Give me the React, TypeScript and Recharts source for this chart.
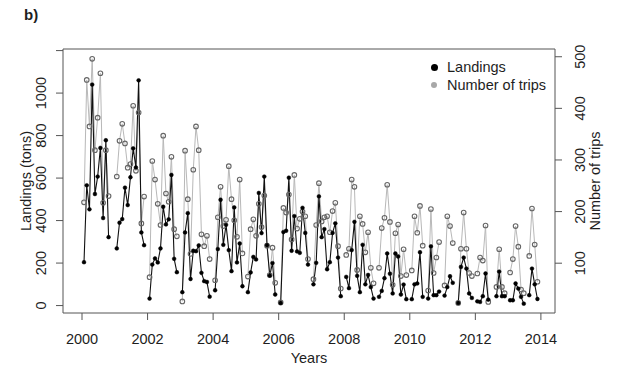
import { ComposedChart, Line, XAxis, YAxis, ReferenceArea, Legend, Label } from "recharts"

// monthly values, Jan..Dec, null where the month is missing
const years = [2000, 2001, 2002, 2003, 2004, 2005, 2006, 2007, 2008, 2009, 2010, 2011, 2012, 2013]

const landings: (number | null)[][] = [
  [204, 566, 453, 1040, 525, 607, 742, 412, 778, 322, null, null],
  [269, 390, 407, 555, 473, 604, 740, 650, 1060, 344, 284, null],
  [33, 193, 222, 203, 269, 465, 382, 406, 615, 220, 157, null],
  [63, 344, 435, 125, 258, 256, 283, 154, 115, 111, 42, null],
  [72, 266, 498, 286, 380, 261, 162, 462, 203, 292, 91, null],
  [63, 156, 229, 217, 530, 341, 607, 284, 141, 200, 52, null],
  [12, 346, 352, 602, 258, 421, 255, 248, 460, 342, 193, null],
  [100, 201, 514, 322, 360, 171, 204, 342, 387, 226, 44, null],
  [135, 82, 261, 394, 140, 63, 286, 100, 144, 87, 33, null],
  [41, 69, 129, 245, 150, 57, 245, 231, 52, 99, 30, null],
  [30, 100, 104, 251, 41, null, 33, 279, 49, 49, 66, null],
  [47, 87, 138, 107, null, 12, 182, 226, 174, 57, 36, null],
  [20, 17, 44, 151, 28, null, null, 44, 160, 44, 44, null],
  [25, 25, 104, 80, 41, 9, null, 49, 174, 100, 31, null],
]

const trips: (number | null)[][] = [
  [218, 455, 365, 496, 319, 382, 468, 217, 319, 230, null, null],
  [268, 337, 370, 332, 285, 292, 405, 279, 392, 177, 229, null],
  [73, 298, 262, 215, 174, 347, 235, 219, 306, 166, 152, null],
  [26, 318, 224, 118, 281, 365, 319, 156, 133, 153, 108, null],
  [67, 189, 248, 172, 184, 288, 224, 183, 151, 262, 119, null],
  [74, 166, 185, 153, 215, 170, 231, 134, 77, 130, 62, null],
  [24, 207, 198, 233, 146, 271, 167, 186, 200, 191, 108, null],
  [69, 174, 255, 181, 189, 191, 160, 201, 217, 133, 51, null],
  [116, 128, 262, 248, 87, 191, 176, 121, 160, 91, 61, null],
  [91, 168, 188, 252, 180, 58, 158, 175, 75, 127, 77, null],
  [86, 191, 159, 211, 134, null, 47, 205, 81, 111, 141, null],
  [57, 191, 172, 139, null, 23, 128, 198, 128, 81, 75, null],
  [80, 111, 105, 173, 25, null, null, 54, 127, 54, 42, null],
  [82, 108, 172, 132, 49, 42, null, 114, 206, 136, 64, null],
]

const yearTicks = [2000, 2002, 2004, 2006, 2008, 2010, 2012, 2014]
const landingTicks = [0, 200, 400, 600, 800, 1000, 1200]
const tripTicks = [100, 200, 300, 400, 500]

const data = years.flatMap((yr, i) =>
  landings[i].map((l, m) => ({ t: yr + (m + 0.73) / 12, landings: l, trips: trips[i][m] }))
)

const FONT = "'Liberation Sans', Arial, sans-serif"
const TXT = "#1e1e1e"
const AX = "#555"
const xDomain = [1999.42, 2014.43]
const leftDomain = [-35, 1207.5]
const rightDomain = [3.5, 515]

const XTick = ({ x, payload }: any) => (
  <text x={x} y={339} textAnchor="middle" dominantBaseline="central" fontSize={14.5} fontFamily={FONT} fill={TXT}>
    {payload.value}
  </text>
)

const makeVTick = (cx: number, hide?: number) => ({ y, payload }: any) =>
  payload.value === hide ? (
    <g />
  ) : (
    <text
      x={cx}
      y={y}
      transform={`rotate(-90 ${cx} ${y})`}
      textAnchor="middle"
      dominantBaseline="central"
      fontSize={14.5}
      fontFamily={FONT}
      fill={TXT}
    >
      {payload.value}
    </text>
  )

const title = (text: string, x: number, y: number, rotate: boolean) => (
  <Label
    content={() => (
      <text
        x={x}
        y={y}
        transform={rotate ? `rotate(-90 ${x} ${y})` : undefined}
        textAnchor="middle"
        dominantBaseline="central"
        fontSize={14.5}
        fontFamily={FONT}
        fill={TXT}
      >
        {text}
      </text>
    )}
  />
)

const LegendBox = () => (
  <div style={{ fontFamily: FONT, fontSize: 14.5, color: TXT, lineHeight: "17.5px" }}>
    <div style={{ display: "flex", alignItems: "center" }}>
      <span style={{ width: 7, height: 7, borderRadius: "50%", background: "#000", marginRight: 9 }} />
      Landings
    </div>
    <div style={{ display: "flex", alignItems: "center" }}>
      <span style={{ width: 6, height: 6, borderRadius: "50%", background: "#a8a8a8", marginRight: 10 }} />
      Number of trips
    </div>
  </div>
)

export default function App() {
  return (
    <div style={{ position: "absolute", left: 0, top: 0, width: 621, height: 375, background: "#fff" }}>
      <div
        style={{ position: "absolute", left: 24, top: 6, fontFamily: FONT, fontWeight: "bold", fontSize: 15, color: TXT }}
      >
        b)
      </div>
      <ComposedChart width={621} height={375} data={data} margin={{ top: 49, right: 0, bottom: 0, left: 0 }}>
        <XAxis
          dataKey="t"
          type="number"
          domain={xDomain}
          ticks={yearTicks}
          allowDataOverflow
          height={62}
          axisLine={false}
          tickLine={{ stroke: AX }}
          tickSize={7}
          tick={<XTick />}
          label={title("Years", 309, 358, false)}
        />
        <YAxis
          yAxisId="left"
          type="number"
          domain={leftDomain}
          ticks={landingTicks}
          allowDataOverflow
          width={63}
          axisLine={false}
          tickLine={{ stroke: AX }}
          tickSize={7}
          tick={makeVTick(41, 1200)}
          label={title("Landings (tons)", 26, 181, true)}
        />
        <YAxis
          yAxisId="right"
          orientation="right"
          type="number"
          domain={rightDomain}
          ticks={tripTicks}
          allowDataOverflow
          width={66}
          axisLine={false}
          tickLine={{ stroke: AX }}
          tickSize={7}
          tick={makeVTick(580)}
          label={title("Number of trips", 595, 181, true)}
        />
        <ReferenceArea
          yAxisId="left"
          x1={xDomain[0]}
          x2={xDomain[1]}
          y1={leftDomain[0]}
          y2={leftDomain[1]}
          fill="none"
          stroke={AX}
          strokeWidth={1}
          fillOpacity={0}
        />
        <Line
          yAxisId="right"
          dataKey="trips"
          stroke="#b8b8b8"
          strokeWidth={1}
          dot={{ r: 2.3, fill: "none", stroke: "#666", strokeWidth: 1.1 }}
          isAnimationActive={false}
        />
        <Line
          yAxisId="left"
          dataKey="landings"
          stroke="#111"
          strokeWidth={1.1}
          dot={{ r: 1.9, fill: "#000", stroke: "#000", strokeWidth: 0.5 }}
          isAnimationActive={false}
        />
        <Legend
          layout="vertical"
          verticalAlign="middle"
          align="center"
          content={<LegendBox />}
          wrapperStyle={{ top: 59, left: 431, width: "auto", height: "auto" }}
        />
      </ComposedChart>
    </div>
  )
}
